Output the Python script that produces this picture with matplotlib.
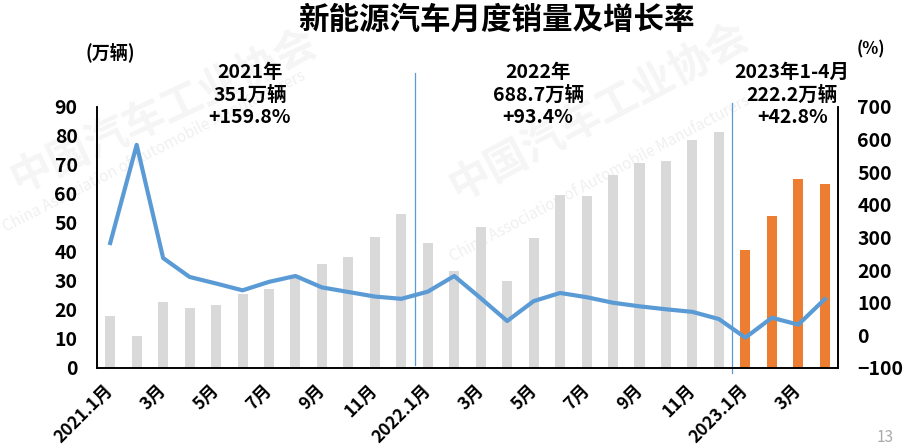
import numpy as np
import matplotlib
matplotlib.use("Agg")
import matplotlib.pyplot as plt
import matplotlib.transforms as mtransforms

plt.rcParams["font.family"] = ["Noto Sans CJK SC", "DejaVu Sans"]
plt.rcParams["font.weight"] = "bold"

# monthly NEV sales (10k units) and YoY growth (%)
sales_2021 = [17.9, 11.0, 22.6, 20.6, 21.7, 25.6, 27.1, 32.1, 35.7, 38.3, 45.0, 53.1]
sales_2022 = [43.1, 33.3, 48.5, 29.9, 44.7, 59.7, 59.3, 66.6, 70.7, 71.4, 78.7, 81.5]
sales_2023 = [40.7, 52.5, 65.2, 63.6]
growth = [283, 584, 237, 179, 159, 138, 164, 182, 147, 133, 119, 112,
          134, 182, 114, 44, 105, 130, 117, 100, 89, 80, 72, 50,
          -7, 54, 33, 111]
tick_labels = ["2021.1月", "3月", "5月", "7月", "9月", "11月",
               "2022.1月", "3月", "5月", "7月", "9月", "11月",
               "2023.1月", "3月"]
year_notes = ["2021年\n351万辆\n+159.8%",
              "2022年\n688.7万辆\n+93.4%",
              "2023年1-4月\n222.2万辆\n+42.8%"]

grey = "#d9d9d9"
orange = "#ed7d31"
blue = "#5b9bd5"

fig = plt.figure(figsize=(9.08, 4.46), dpi=100)
ax = fig.add_axes([0.1068, 0.1749, 0.8161, 0.5852])
ax2 = ax.twinx()

# faint watermark, behind everything
for (x, y, rot) in [(0.18, 0.75, 25), (0.66, 0.75, 28)]:
    fig.text(x, y, "中国汽车工业协会", fontsize=30, color="#f5f5f5", rotation=rot,
             ha="center", va="center", zorder=-1)
for (x, y, rot) in [(0.17, 0.66, 27), (0.66, 0.60, 28)]:
    fig.text(x, y, "China Association of Automobile Manufacturers", fontsize=11,
             color="#f0f0f0", rotation=rot, ha="center", va="center",
             weight="normal", zorder=-1)

sales = sales_2021 + sales_2022 + sales_2023
x = np.arange(len(sales))
colors = [grey] * (len(sales_2021) + len(sales_2022)) + [orange] * len(sales_2023)
ax.bar(x, sales, width=0.38, color=colors, zorder=2)
ax.set_xlim(-0.5, len(sales) - 0.5)
ax.set_ylim(0, 90)
ax.set_yticks(range(0, 91, 10))

ax2.plot(x, growth, color=blue, lw=3, zorder=3)
ax2.set_ylim(-100, 700)
ax2.set_yticks(range(-100, 701, 100))

ax.set_xticks(x[::2])
ax.set_xticklabels(tick_labels, rotation=45, ha="right", va="center",
                   rotation_mode="anchor", fontsize=12.5, weight="bold")
ax.tick_params(axis="x", length=0, pad=14)
ax.tick_params(axis="y", length=0, pad=14, labelsize=14)
ax2.tick_params(axis="y", length=0, pad=14, labelsize=14)
for lab in ax.get_yticklabels() + ax2.get_yticklabels():
    lab.set_fontweight("bold")

for a in (ax, ax2):
    a.spines["top"].set_visible(False)
    for s in ("left", "right", "bottom"):
        a.spines[s].set_color("black")
        a.spines[s].set_linewidth(1.2)
    a.patch.set_visible(False)

# year separators
trans = mtransforms.blended_transform_factory(ax.transData, ax.transAxes)
ax.plot([11.5, 11.5], [0.011, 1.13], color=blue, lw=0.9, transform=trans, clip_on=False)
ax.plot([23.5, 23.5], [-0.019, 1.015], color=blue, lw=0.9, transform=trans, clip_on=False)

note_x = [5.28, 16.17, 25.77]
for nx, note in zip(note_x, year_notes):
    ax.text(nx, 1.046, note, transform=trans, ha="center", va="center",
            fontsize=14, weight="bold", linespacing=1.2)

fig.text(0.121, 0.883, "(万辆)", ha="center", va="center", fontsize=13, weight="bold")
fig.text(0.959, 0.888, "(%)", ha="center", va="center", fontsize=12, weight="bold")
fig.text(0.547, 0.955, "新能源汽车月度销量及增长率", ha="center", va="center",
         fontsize=22, weight="bold")
fig.text(0.965, 0.0, "13", ha="left", va="bottom", fontsize=11, color="#aaaaaa",
         weight="normal")

fig.savefig("out.png", dpi=100)
